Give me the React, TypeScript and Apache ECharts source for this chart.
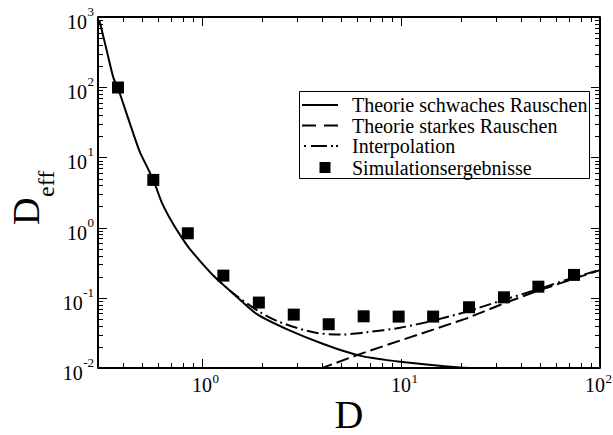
import React, { useEffect, useRef } from 'react';
import * as echarts from 'echarts';

// ---- data ----
const seriesNames = [
  'Theorie schwaches Rauschen',
  'Theorie starkes Rauschen',
  'Interpolation',
  'Simulationsergebnisse',
];

const weakD = [0.305, 0.332, 0.358, 0.387, 0.418, 0.452, 0.488, 0.569, 0.627, 0.704, 0.791, 0.871, 1.14, 1.44, 1.88, 2.77, 4.07, 6.22, 9.9, 19.8, 27.3, 39.5];
const weakY = [889, 332, 138, 80, 41.6, 21.6, 11.8, 4.78, 2.29, 1.22, 0.72, 0.49, 0.207, 0.1137, 0.059, 0.034, 0.022, 0.015, 0.0123, 0.0102, 0.0099, 0.0094];

const strongD = [3.9, 6.1, 9.9, 14.5, 21.4, 31.4, 46.4, 70, 100];
const strongY = [0.0097, 0.0155, 0.0246, 0.0352, 0.051, 0.079, 0.12, 0.178, 0.248];

const interpD = [1.14, 1.44, 1.96, 2.47, 3.63, 4.94, 6.73, 9.9, 14.5, 21.4, 31.4, 49.9, 70, 100];
const interpY = [0.207, 0.115, 0.0622, 0.0448, 0.0323, 0.0299, 0.0323, 0.0375, 0.0473, 0.0636, 0.09, 0.135, 0.185, 0.25];

const simD = [0.378, 0.569, 0.848, 1.28, 1.93, 2.89, 4.33, 6.49, 9.73, 14.5, 21.97, 32.9, 49, 74];
const simY = [99, 4.78, 0.83, 0.207, 0.0855, 0.0576, 0.042, 0.0545, 0.054, 0.054, 0.0733, 0.1016, 0.144, 0.212];

const xMin = 0.3;
const xMax = 100;
const yMin = 0.01;
const yMax = 1000;
const xMajorTicks = [1, 10, 100];
const xMajorExponents = ['0', '1', '2'];
const xMinorTicks = [0.4, 0.5, 0.6, 0.7, 0.8, 0.9, 2, 3, 4, 5, 6, 7, 8, 9, 20, 30, 40, 50, 60, 70, 80, 90];
const yMajorTicks = [0.01, 0.1, 1, 10, 100, 1000];
const yMajorExponents = ['-2', '-1', '0', '1', '2', '3'];
const yMinorTicks = [
  0.02, 0.03, 0.04, 0.05, 0.06, 0.07, 0.08, 0.09,
  0.2, 0.3, 0.4, 0.5, 0.6, 0.7, 0.8, 0.9,
  2, 3, 4, 5, 6, 7, 8, 9,
  20, 30, 40, 50, 60, 70, 80, 90,
  200, 300, 400, 500, 600, 700, 800, 900,
];

const FONT = '"Liberation Serif", "Times New Roman", Times, serif';

const pairs = (xs: number[], ys: number[]) => xs.map((x, i) => [x, ys[i]]);

let measureCtx: CanvasRenderingContext2D | null = null;
function measure(text: string, size: number): number {
  if (!measureCtx) measureCtx = document.createElement('canvas').getContext('2d');
  if (!measureCtx) return text.length * size * 0.5;
  measureCtx.font = `${size}px "Liberation Serif"`;
  return measureCtx.measureText(text).width;
}

const corners = 'M0,0l0.01,0l0,0.01z M45,14l-0.01,0l0,-0.01z';
const iconSolid = 'path://' + corners + ' M0,6h36v2h-36z';
const iconDashed = 'path://' + corners + ' M0,6h14v2h-14z M22,6h14v2h-14z';
const iconDashDot = 'path://' + corners + ' M2,6h2v2h-2z M9,6h16v2h-16z M29,6h2v2h-2z M34,6h2v2h-2z';
const iconSquare = 'path://' + corners + ' M17.5,1.5h11v11h-11z';

export default function App() {
  const ref = useRef<HTMLDivElement>(null);

  useEffect(() => {
    if (!ref.current) return;
    const chart = echarts.init(ref.current, undefined, { renderer: 'svg' });

    const legendCommon = {
      orient: 'vertical',
      left: 302,
      padding: 0,
      itemGap: 0.5,
      itemWidth: 45,
      itemHeight: 14,
      selectedMode: false,
      itemStyle: { borderWidth: 0 },
      textStyle: { fontFamily: FONT, fontSize: 20, color: '#000', lineHeight: 18 },
    };

    const axisCommon = {
      type: 'log',
      logBase: 10,
      axisLine: { show: false },
      axisTick: { show: false },
      axisLabel: { show: false },
      splitLine: { show: false },
    };

    const series: any[] = [
      {
        name: seriesNames[0],
        type: 'line',
        data: pairs(weakD, weakY),
        showSymbol: false,
        symbol: 'none',
        smooth: 0.2,
        lineStyle: { color: '#000', width: 2, type: 'solid' },
        itemStyle: { color: '#000' },
      },
      {
        name: seriesNames[1],
        type: 'line',
        data: pairs(strongD, strongY),
        showSymbol: false,
        symbol: 'none',
        lineStyle: { color: '#000', width: 2, type: [13, 5] },
        itemStyle: { color: '#000' },
      },
      {
        name: seriesNames[2],
        type: 'line',
        data: pairs(interpD, interpY),
        showSymbol: false,
        symbol: 'none',
        smooth: 0.3,
        lineStyle: { color: '#000', width: 2, type: [12, 4, 2, 4] },
        itemStyle: { color: '#000' },
      },
      {
        name: seriesNames[3],
        type: 'scatter',
        data: pairs(simD, simY),
        symbol: 'rect',
        symbolSize: 12,
        itemStyle: { color: '#000', opacity: 1 },
        z: 5,
      },
    ];

    const makeOption = (graphic: any[]) => ({
      animation: false,
      backgroundColor: '#fff',
      grid: { left: 98, right: 13, top: 17, bottom: 67 },
      xAxis: { ...axisCommon, min: xMin, max: xMax },
      yAxis: { ...axisCommon, min: yMin, max: yMax },
      legend: [
        {
          ...legendCommon,
          top: 95,
          data: [
            { name: seriesNames[0], icon: iconSolid },
            { name: seriesNames[1], icon: iconDashed },
            { name: seriesNames[2], icon: iconDashDot },
          ],
        },
        {
          ...legendCommon,
          top: 157.5,
          data: [{ name: seriesNames[3], icon: iconSquare }],
        },
      ],
      graphic,
      series,
    });

    // first pass: lay out the grid so the scales can be queried
    chart.setOption(makeOption([]) as any);
    const toPx = (x: number, y: number) => chart.convertToPixel({ gridIndex: 0 }, [x, y]) as number[];
    const [left, bottom] = toPx(xMin, yMin);
    const [right, top] = toPx(xMax, yMax);

    const strokeRect = (x: number, y: number, w: number, h: number) => ({
      type: 'rect',
      shape: { x, y, width: w, height: h },
      style: { fill: 'none', stroke: '#000', lineWidth: 1 },
      z: 100,
    });
    const seg = (x1: number, y1: number, x2: number, y2: number) => ({
      type: 'line',
      shape: { x1, y1, x2, y2 },
      style: { stroke: '#000', lineWidth: 1 },
      z: 100,
    });
    const txt = (x: number, y: number, text: string, size: number, align: string) => ({
      type: 'text',
      x,
      y,
      style: { text, fontSize: size, fontFamily: FONT, fill: '#000', align, verticalAlign: 'middle' },
      z: 100,
    });

    const g: any[] = [];
    // legend frame
    g.push(strokeRect(299.5, 91.5, 290, 87));
    // axis titles
    g.push({
      type: 'text',
      x: 349,
      y: 414,
      style: { text: 'D', fontSize: 40, fontFamily: FONT, fill: '#000', align: 'center', verticalAlign: 'middle' },
    });
    g.push({
      type: 'group',
      x: 25.5,
      y: 225,
      rotation: Math.PI / 2,
      children: [
        {
          type: 'text',
          x: 0,
          y: 0,
          style: { text: 'D', fontSize: 38, fontFamily: FONT, fill: '#000', align: 'left', verticalAlign: 'middle' },
        },
        {
          type: 'text',
          x: 28,
          y: 20,
          style: { text: 'eff', fontSize: 24, fontFamily: FONT, fill: '#000', align: 'left', verticalAlign: 'middle' },
        },
      ],
    });
    // plot frame, 2px drawn as two 1px outlines
    g.push(strokeRect(left - 0.5, top - 0.5, right - left + 1, bottom - top + 1));
    g.push(strokeRect(left + 0.5, top + 0.5, right - left - 1, bottom - top - 1));

    const xTick = (v: number, len: number) => {
      const x = Math.round(toPx(v, 1)[0]) + 0.5;
      g.push(seg(x, bottom, x, bottom - len));
      g.push(seg(x, top, x, top + len));
      return x;
    };
    const yTick = (v: number, len: number) => {
      const y = Math.round(toPx(1, v)[1]) + 0.5;
      g.push(seg(left, y, left + len, y));
      g.push(seg(right, y, right - len, y));
      return y;
    };
    xMinorTicks.forEach((v) => xTick(v, 5));
    yMinorTicks.forEach((v) => yTick(v, 5));
    xMajorTicks.forEach((v, i) => {
      const x = xTick(v, 9);
      const exp = xMajorExponents[i];
      const ew = measure(exp, 13);
      const ex = Math.min(x + 10, 612 - ew);
      g.push(txt(ex - 0.5, bottom + 17, '10', 20, 'right'));
      g.push(txt(ex, bottom + 10, exp, 13, 'left'));
    });
    yMajorTicks.forEach((v, i) => {
      const y = yTick(v, 9);
      const exp = yMajorExponents[i];
      const ew = measure(exp, 13);
      const ex = 94 - ew;
      g.push(txt(ex - 0.5, y + 4.5, '10', 20, 'right'));
      g.push(txt(ex, y - 6.5, exp, 13, 'left'));
    });

    // second pass: the complete option in one go
    chart.setOption(makeOption(g) as any, { notMerge: true });

    return () => {
      chart.dispose();
    };
  }, []);

  return (
    <div
      ref={ref}
      style={{ position: 'absolute', left: 0, top: 0, width: 613, height: 435 }}
    />
  );
}
